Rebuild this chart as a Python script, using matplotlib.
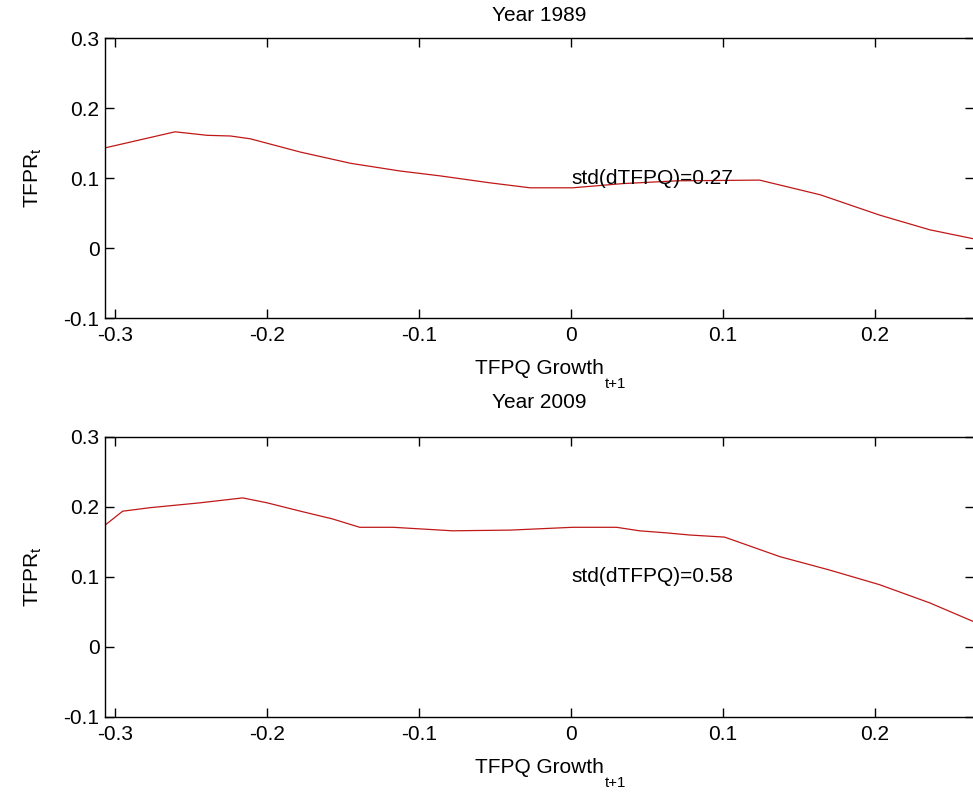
import matplotlib
matplotlib.use("Agg")
import matplotlib.pyplot as plt
from matplotlib.ticker import FormatStrFormatter

plt.rcParams['font.family'] = ['Liberation Sans', 'DejaVu Sans']
plt.rcParams['axes.unicode_minus'] = False
plt.rcParams['mathtext.default'] = 'regular'

# values
x_1989 = [-0.3066, -0.2605, -0.2395, -0.224, -0.211, -0.178, -0.145, -0.1125,
          -0.086, -0.053, -0.027, 0.001, 0.034, 0.07, 0.124, 0.164, 0.203,
          0.236, 0.2651]
y_1989 = [0.143, 0.166, 0.161, 0.160, 0.156, 0.137, 0.121, 0.110, 0.103,
          0.093, 0.086, 0.086, 0.092, 0.096, 0.097, 0.076, 0.047, 0.026, 0.013]

x_2009 = [-0.3066, -0.295, -0.277, -0.244, -0.216, -0.2, -0.178, -0.157,
          -0.139, -0.117, -0.078, -0.040, 0.001, 0.030, 0.045, 0.063, 0.078,
          0.101, 0.1375, 0.170, 0.203, 0.236, 0.2651]
y_2009 = [0.174, 0.194, 0.199, 0.206, 0.213, 0.206, 0.194, 0.183, 0.171,
          0.171, 0.166, 0.167, 0.171, 0.171, 0.166, 0.163, 0.160, 0.157,
          0.129, 0.110, 0.089, 0.063, 0.036]

years = ["1989", "2009"]
std_labels = ["std(dTFPQ)=0.27", "std(dTFPQ)=0.58"]
x_ticks = [-0.3, -0.2, -0.1, 0, 0.1, 0.2]
y_ticks = [-0.1, 0, 0.1, 0.2, 0.3]

W, H = 973, 796
fig = plt.figure(figsize=(W / 100, H / 100), dpi=100)

left = 105 / W
width = 869 / W
ax_h = 280 / H
ax1 = fig.add_axes([left, 1 - 318 / H, width, ax_h])
ax2 = fig.add_axes([left, 1 - 717 / H, width, ax_h])

fs = 15
series = [(x_1989, y_1989), (x_2009, y_2009)]
title_pads = [12, 21]

for ax, (xs, ys), year, lab, tp in zip([ax1, ax2], series, years, std_labels, title_pads):
    ax.plot(xs, ys, color='#c01818', linewidth=0.9)
    ax.set_xlim(-0.3066, 0.2651)
    ax.set_ylim(-0.1, 0.3)
    ax.set_xticks(x_ticks)
    ax.set_yticks(y_ticks)
    ax.xaxis.set_major_formatter(FormatStrFormatter('%g'))
    ax.yaxis.set_major_formatter(FormatStrFormatter('%g'))
    ax.tick_params(direction='in', length=6.5, width=1, top=True, right=True,
                   labelsize=fs)
    ax.tick_params(axis='x', pad=6)
    ax.tick_params(axis='y', pad=4)
    for s in ax.spines.values():
        s.set_linewidth(1)
    ax.set_title("Year " + year, fontsize=fs, pad=tp)
    ax.set_xlabel("TFPQ Growth", fontsize=fs, labelpad=10)
    # subscript sits well below the baseline in the original
    ax.annotate("t+1", xy=(1, 0), xycoords=ax.xaxis.label,
                xytext=(0.5, 1), textcoords='offset points',
                fontsize=fs * 0.72, ha='left', va='top')
    ax.set_ylabel("TFPR$_t$", fontsize=fs, labelpad=14)
    ax.text(0, 0.1, lab, fontsize=fs, ha='left', va='center')

fig.savefig("out.png", dpi=100)
